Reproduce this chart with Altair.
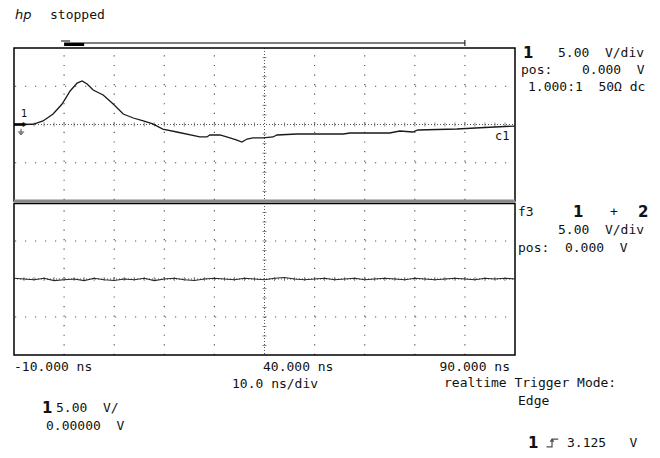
import altair as alt
import pandas as pd

# ---- data read from the screen ----
# channel 1 (upper panel), time in ns, volts
t1 = [-10, -6.2, -4.2, -2.2, -0.4, 1.2, 2.6, 3.6, 4.6, 5.8,
      7.8, 9.8, 11.8, 13.8, 15.8, 17.7, 19.7, 22.5, 27.1, 28.5,
      29.1, 31.1, 33.1, 34.5, 35.5, 36.5, 37.7, 39.7, 41.7, 42.5,
      46.5, 55.7, 57.1, 65.0, 67.0, 69.6, 70.6, 78.4, 84.0, 90.0]
v1 = [0.0, 0.03, 0.46, 1.37, 2.68, 4.38, 5.42, 5.69, 5.29, 4.51,
      3.86, 2.68, 1.37, 0.85, 0.46, 0.07, -0.59, -0.98, -1.63, -1.63,
      -1.37, -1.37, -1.76, -2.03, -2.29, -1.90, -1.76, -1.76, -1.63, -1.37,
      -1.24, -1.24, -1.11, -1.11, -0.85, -0.98, -0.72, -0.59, -0.39, -0.20]

# function f3 = 1 + 2 (lower panel)
t2 = [-10, -8, -6, -4, -2, 0, 2, 4, 6, 8,
      10, 12, 14, 16, 18, 20, 22, 24, 26, 28,
      30, 32, 34, 36, 38, 40, 42, 44, 46, 48,
      50, 52, 54, 56, 58, 60, 62, 64, 66, 68,
      70, 72, 74, 76, 78, 80, 82, 84, 86, 88,
      90]
v2 = [0.1, 0.0, -0.1, 0.1, -0.2, -0.1, 0.0, -0.2, 0.1, -0.1,
      -0.2, 0.0, -0.1, 0.1, -0.2, 0.0, 0.1, -0.1, -0.2, 0.0,
      0.1, 0.0, -0.1, 0.1, 0.0, -0.1, 0.1, 0.2, 0.0, -0.1,
      0.0, 0.1, -0.1, 0.0, 0.1, -0.1, 0.0, 0.1, 0.0, -0.1,
      0.1, 0.0, -0.1, 0.0, 0.1, 0.0, -0.1, 0.1, 0.0, 0.1,
      0.0]

# graticule
time_domain = [-10, 90]
volt_domain = [-10, 10]
x_grid = [0, 10, 20, 30, 50, 60, 70, 80]
x_center = [40]
y_grid = [-5, 5]
y_center = [0]
x_minor = [-8, -6, -4, -2, 0, 2, 4, 6, 8, 10, 12, 14, 16, 18, 20, 22, 24, 26, 28, 30,
           32, 34, 36, 38, 42, 44, 46, 48, 50, 52, 54, 56, 58, 60, 62, 64, 66, 68, 70,
           72, 74, 76, 78, 80, 82, 84, 86, 88]
y_minor = [-8.75, -7.5, -6.25, -5, -3.75, -2.5, -1.25, 1.25, 2.5, 3.75, 5, 6.25, 7.5, 8.75]

# texts
header = ["stopped"]
ch1_info = ["5.00  V/div", "pos:", "0.000  V", "1.000:1  50\u03a9 dc"]
f3_info = ["f3", "+", "5.00  V/div", "pos:  0.000  V"]
time_labels = ["-10.000 ns", "40.000 ns", "90.000 ns", "10.0 ns/div"]
trig_info = ["realtime Trigger Mode:", "Edge", "3.125   V"]
bottom_ch = ["5.00  V/", "0.00000  V"]

W, H = 501, 307
UPPER_BOTTOM, LOWER_TOP = 153, 155
FONT = "DejaVu Sans Mono"
INK = "#111111"
DOT = "#555555"

XS = alt.Scale(domain=time_domain, nice=False, zero=False)
YU = alt.Scale(domain=volt_domain, range=[UPPER_BOTTOM, 0], nice=False, zero=False)
YL = alt.Scale(domain=volt_domain, range=[H, LOWER_TOP], nice=False, zero=False)

one = alt.Data(values=[{}])
layers = []

def txt(s, x, y, size=13, bold=False, italic=False, align="left", font=FONT):
    kw = dict(text=s.replace(" ", "\u00a0"), x=x, y=y, align=align, baseline="middle",
              fontSize=size, font=font, color=INK)
    if bold:
        kw["fontWeight"] = "bold"
    if italic:
        kw["fontStyle"] = "italic"
    return alt.Chart(one).mark_text(**kw)

# grid: vertical dotted lines in both panels
gx = pd.DataFrame({"t": x_grid})
for (ya, yb) in [(0, UPPER_BOTTOM), (LOWER_TOP, H)]:
    layers.append(alt.Chart(gx).mark_rule(color=DOT, strokeWidth=1.2,
                                          strokeDash=[1.2, 8.36], strokeDashOffset=2.2)
                  .encode(x=alt.X("t:Q", scale=XS, axis=None),
                          y=alt.value(ya), y2=alt.value(yb)))
# centre vertical line
gc = pd.DataFrame({"t": x_center})
for (ya, yb) in [(0, UPPER_BOTTOM), (LOWER_TOP, H)]:
    layers.append(alt.Chart(gc).mark_rule(color=DOT, strokeWidth=1, strokeDash=[1, 2])
                  .encode(x=alt.X("t:Q", scale=XS, axis=None),
                          y=alt.value(ya), y2=alt.value(yb)))

# horizontal rows
for ys in (YU, YL):
    layers.append(alt.Chart(pd.DataFrame({"v": y_grid}))
                  .mark_rule(color=DOT, strokeWidth=1.2, strokeDash=[1.2, 8.8], strokeDashOffset=9)
                  .encode(y=alt.Y("v:Q", scale=ys, axis=None),
                          x=alt.value(0), x2=alt.value(W)))
    layers.append(alt.Chart(pd.DataFrame({"v": y_center}))
                  .mark_rule(color=DOT, strokeWidth=1, strokeDash=[1, 2])
                  .encode(y=alt.Y("v:Q", scale=ys, axis=None),
                          x=alt.value(0), x2=alt.value(W)))
    # minor ticks on centre horizontal line
    layers.append(alt.Chart(pd.DataFrame({"t": x_minor, "v": [0] * len(x_minor)}))
                  .mark_tick(color=DOT, size=4, thickness=1, orient="vertical")
                  .encode(x=alt.X("t:Q", scale=XS, axis=None),
                          y=alt.Y("v:Q", scale=ys, axis=None)))
    # minor ticks on centre vertical line
    layers.append(alt.Chart(pd.DataFrame({"t": [40] * len(y_minor), "v": y_minor}))
                  .mark_tick(color=DOT, size=4, thickness=1, orient="horizontal")
                  .encode(x=alt.X("t:Q", scale=XS, axis=None),
                          y=alt.Y("v:Q", scale=ys, axis=None)))

# panel frames
layers.append(alt.Chart(one).mark_rect(fill=None, stroke="black", strokeWidth=1.5)
              .encode(x=alt.value(0), x2=alt.value(W), y=alt.value(0), y2=alt.value(UPPER_BOTTOM)))
layers.append(alt.Chart(one).mark_rule(color="#8a8a8a", strokeWidth=3)
              .encode(x=alt.value(0), x2=alt.value(W), y=alt.value(UPPER_BOTTOM)))
layers.append(alt.Chart(one).mark_rect(fill=None, stroke="black", strokeWidth=1.5)
              .encode(x=alt.value(0), x2=alt.value(W), y=alt.value(LOWER_TOP + 0.5), y2=alt.value(H)))

# traces
df1 = pd.DataFrame({"t": t1, "v": v1})
df2 = pd.DataFrame({"t": t2, "v": v2})
layers.append(alt.Chart(df1).mark_line(color="#1a1a1a", strokeWidth=1.3)
              .encode(x=alt.X("t:Q", scale=XS, axis=None),
                      y=alt.Y("v:Q", scale=YU, axis=None)))
layers.append(alt.Chart(df2).mark_line(color="#2a2a2a", strokeWidth=1.2)
              .encode(x=alt.X("t:Q", scale=XS, axis=None),
                      y=alt.Y("v:Q", scale=YL, axis=None)))

# timebase bar above the graticule
layers.append(alt.Chart(one).mark_rule(color="black", strokeWidth=1)
              .encode(x=alt.XDatum(0, scale=XS, axis=None), x2=alt.X2Datum(80), y=alt.value(-5)))
layers.append(alt.Chart(one).mark_rule(color="black", strokeWidth=3)
              .encode(x=alt.XDatum(0, scale=XS, axis=None), x2=alt.X2Datum(4), y=alt.value(-3.5)))
layers.append(alt.Chart(one).mark_rule(color="black", strokeWidth=1)
              .encode(x=alt.XDatum(80, scale=XS, axis=None), y=alt.value(-8), y2=alt.value(-2)))
layers.append(alt.Chart(one).mark_rule(color="black", strokeWidth=1)
              .encode(x=alt.XDatum(-0.6, scale=XS, axis=None), x2=alt.X2Datum(1.2), y=alt.value(-7)))

# channel-1 ground marker at left of the upper panel
layers.append(alt.Chart(one).mark_rule(color="black", strokeWidth=2.5)
              .encode(x=alt.value(0), x2=alt.value(10), y=alt.YDatum(0, scale=YU, axis=None)))
layers.append(alt.Chart(one).mark_point(shape="triangle-right", filled=True, color="black", size=30)
              .encode(x=alt.value(11), y=alt.YDatum(0, scale=YU, axis=None)))
layers.append(txt("1", 7, 66, size=10, font="DejaVu Sans"))
layers.append(alt.Chart(one).mark_point(
    shape="M 0 -1 L 0 0 M -1 0 L 1 0 M -0.6 0.4 L 0.6 0.4 M -0.25 0.8 L 0.25 0.8",
    filled=False, stroke="black", strokeWidth=1, size=40)
    .encode(x=alt.value(7), y=alt.value(84)))

# header
layers.append(txt("hp", 1, -33, size=13, italic=True, font="DejaVu Sans"))
layers.append(txt(header[0], 36, -33))

# channel 1 info
layers.append(txt("1", 509, 5, size=15, bold=True, font="DejaVu Sans"))
layers.append(txt(ch1_info[0], 544, 5))
layers.append(txt(ch1_info[1], 507, 22))
layers.append(txt(ch1_info[2], 568, 22))
layers.append(txt(ch1_info[3], 514, 39))
layers.append(txt("c1", 481, 88, size=12))

# f3 info
layers.append(txt(f3_info[0], 504, 164))
layers.append(txt("1", 559, 164, size=15, bold=True, font="DejaVu Sans"))
layers.append(txt(f3_info[1], 596, 164))
layers.append(txt("2", 624, 164, size=15, bold=True, font="DejaVu Sans"))
layers.append(txt(f3_info[2], 544, 182))
layers.append(txt(f3_info[3], 504, 200))

# time labels
layers.append(txt(time_labels[0], 0, 319))
layers.append(txt(time_labels[1], 249, 319))
layers.append(txt(time_labels[2], 496, 319, align="right"))
layers.append(txt(time_labels[3], 218, 336))

# trigger
layers.append(txt(trig_info[0], 430, 335))
layers.append(txt(trig_info[1], 504, 353))
layers.append(txt("1", 514, 395, size=15, bold=True, font="DejaVu Sans"))
layers.append(alt.Chart(one).mark_point(
    shape="M -1 0.6 L -0.15 0.6 L -0.15 -0.6 L 0.8 -0.6 M -0.15 -0.6 L -0.4 -0.2 M -0.15 -0.6 L 0.1 -0.2",
    filled=False, stroke="black", strokeWidth=1.2, size=170)
    .encode(x=alt.value(539), y=alt.value(395)))
layers.append(txt(trig_info[2], 553, 395))

# bottom channel readout
layers.append(txt("1", 28, 360, size=15, bold=True, font="DejaVu Sans"))
layers.append(txt(bottom_ch[0], 42, 360))
layers.append(txt(bottom_ch[1], 32, 378))

chart = (alt.layer(*layers)
         .resolve_scale(y="independent")
         .properties(width=W, height=H,
                     padding={"left": 6, "top": 40, "right": 137, "bottom": 102},
                     autosize=alt.AutoSizeParams(type="none"),
                     background="white")
         .configure_view(stroke=None))

chart.save("out.html", embed_options={"renderer": "svg", "actions": False})
